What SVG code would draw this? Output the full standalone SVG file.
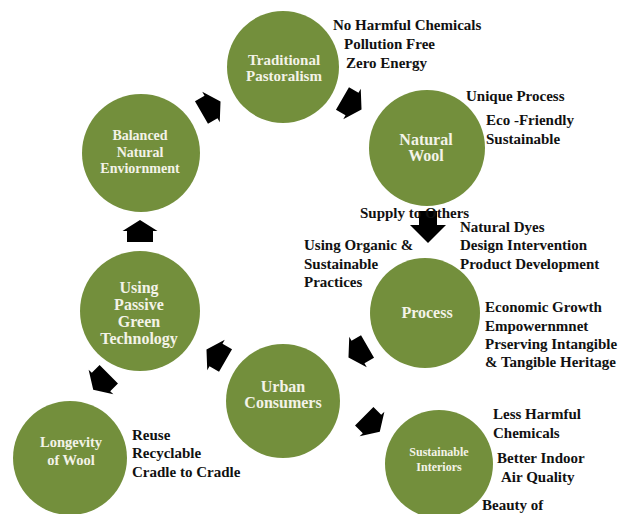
<svg xmlns="http://www.w3.org/2000/svg" width="622" height="514" viewBox="0 0 622 514">
<defs>
<style>
.c{fill:#738f3c}
.w{fill:#f3f3e8;font-family:"Liberation Serif","Times New Roman",serif;font-weight:bold;font-size:15px;text-anchor:middle}
.t{fill:#111;font-family:"Liberation Serif","Times New Roman",serif;font-weight:bold;font-size:15px}
.a{fill:#000}
</style>
<path id="arr" d="M-11,-13 L0,-13 L0,-17.5 L11,0 L0,17.5 L0,13 L-11,13 Z"/>
</defs>
<rect width="622" height="514" fill="#fff"/>
<g id="connectors" class="a">
<use href="#arr" transform="translate(211,107) rotate(-30)"/>
<use href="#arr" transform="translate(352,104) rotate(30)"/>
<path d="M419,211 L437,211 L437,225 L446,225 L428,243 L410,225 L419,225 Z"/>
<use href="#arr" transform="translate(358,352) rotate(150)"/>
<use href="#arr" transform="translate(216,355) rotate(-150)"/>
<use href="#arr" transform="translate(140,231) rotate(-90)"/>
<use href="#arr" transform="translate(101,382) rotate(135)"/>
<use href="#arr" transform="translate(372,424) rotate(45)"/>
</g>
<g id="traditional">
<circle class="c" cx="283" cy="67" r="56"/>
<text class="w" x="284" y="65">Traditional</text>
<text class="w" x="284" y="81">Pastoralism</text>
<text class="t" x="333" y="30">No Harmful Chemicals</text>
<text class="t" x="344" y="49">Pollution Free</text>
<text class="t" x="346" y="68">Zero Energy</text>
</g>
<g id="natural-wool">
<circle class="c" cx="427" cy="148" r="58"/>
<text class="w" x="426" y="145" style="font-size:16px">Natural</text>
<text class="w" x="426" y="161" style="font-size:16px">Wool</text>
<text class="t" x="466" y="101">Unique Process</text>
<text class="t" x="486" y="125">Eco -Friendly</text>
<text class="t" x="486" y="144">Sustainable</text>
</g>
<g id="process">
<circle class="c" cx="425" cy="313" r="55"/>
<text class="w" x="427" y="318" style="font-size:16px">Process</text>
<text class="t" x="360" y="218">Supply to Others</text>
<text class="t" x="460" y="232">Natural Dyes</text>
<text class="t" x="460" y="250">Design Intervention</text>
<text class="t" x="460" y="269">Product Development</text>
<text class="t" x="304" y="250">Using Organic &amp;</text>
<text class="t" x="304" y="269">Sustainable</text>
<text class="t" x="304" y="287">Practices</text>
<text class="t" x="485" y="312">Economic Growth</text>
<text class="t" x="485" y="331">Empowernmnet</text>
<text class="t" x="485" y="349">Prserving Intangible</text>
<text class="t" x="485" y="367">&amp; Tangible Heritage</text>
</g>
<g id="urban-consumers">
<circle class="c" cx="283" cy="401" r="57"/>
<text class="w" x="283" y="392" style="font-size:16px">Urban</text>
<text class="w" x="283" y="408" style="font-size:16px">Consumers</text>
</g>
<g id="using-passive">
<circle class="c" cx="140" cy="311" r="60"/>
<text class="w" x="139" y="293" style="font-size:16px">Using</text>
<text class="w" x="139" y="310" style="font-size:16px">Passive</text>
<text class="w" x="139" y="327" style="font-size:16px">Green</text>
<text class="w" x="139" y="344" style="font-size:16px">Technology</text>
</g>
<g id="balanced">
<circle class="c" cx="141" cy="153" r="59"/>
<text class="w" x="140" y="140" style="font-size:14px">Balanced</text>
<text class="w" x="140" y="157" style="font-size:14px">Natural</text>
<text class="w" x="140" y="173" style="font-size:14px">Enviornment</text>
</g>
<g id="longevity">
<circle class="c" cx="70" cy="458" r="57"/>
<text class="w" x="71" y="447" style="font-size:14.5px">Longevity</text>
<text class="w" x="71" y="465" style="font-size:14.5px">of Wool</text>
<text class="t" x="132" y="440">Reuse</text>
<text class="t" x="132" y="458">Recyclable</text>
<text class="t" x="132" y="477">Cradle to Cradle</text>
</g>
<g id="sustainable-interiors">
<circle class="c" cx="439" cy="464" r="54"/>
<text class="w" x="439" y="456" style="font-size:12px">Sustainable</text>
<text class="w" x="439" y="471" style="font-size:12px">Interiors</text>
<text class="t" x="493" y="419">Less Harmful</text>
<text class="t" x="493" y="438">Chemicals</text>
<text class="t" x="497" y="463">Better Indoor</text>
<text class="t" x="501" y="482">Air Quality</text>
<text class="t" x="482" y="510">Beauty of</text>
</g>
</svg>
